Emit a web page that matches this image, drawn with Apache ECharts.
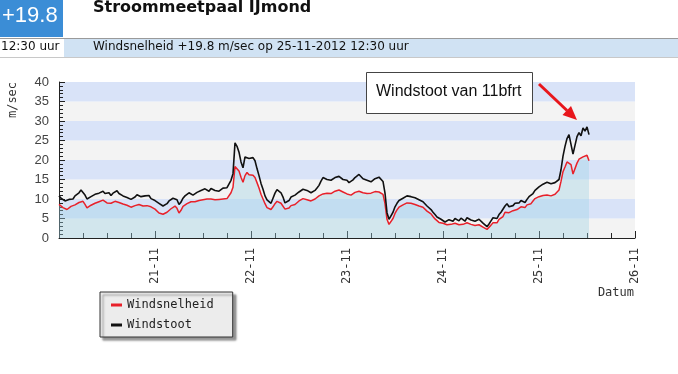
<!DOCTYPE html>
<html>
<head>
<meta charset="utf-8">
<script src="https://cdn.jsdelivr.net/npm/echarts@6/dist/echarts.min.js"></script>
<style>
html,body{margin:0;padding:0;background:#fff;}
#c{width:678px;height:374px;}
</style>
</head>
<body>
<div id="c"></div>
<script>
// half-hourly readings starting 20-11-2012 00:00, last one 25-11-2012 12:30
var startHour = 0;
var stepHours = 0.5;

var windstoot = [
10.8,10.2,9.8,9.5,9.2,9.9,10.3,10.0,10.8,11.3,11.6,12.3,12.0,11.0,10.0,10.4,10.6,10.9,11.2,11.0,11.5,11.9,12.0,11.4,
11.2,11.6,10.9,11.5,11.9,12.1,11.4,11.0,10.8,11.2,10.4,10.0,9.9,10.4,10.5,11.1,10.9,10.6,10.3,10.8,10.5,10.9,10.1,10.3,
9.6,9.2,8.9,8.4,8.2,8.6,8.8,9.5,9.6,10.2,10.6,9.8,8.6,9.2,10.2,10.8,11.0,11.6,11.5,11.0,11.2,11.7,11.8,12.2,
11.9,12.6,12.4,12.0,12.7,13.1,12.2,12.6,12.0,12.5,12.8,12.3,12.9,13.4,14.8,16.5,
24.4,23.5,22.0,19.5,18.0,20.8,21.0,20.4,20.2,20.6,19.8,17.8,16.0,14.0,12.5,10.8,9.8,9.3,8.9,10.2,11.5,12.4,12.2,11.6,
10.5,9.0,8.5,9.6,10.5,10.2,11.0,11.4,11.8,12.1,12.5,12.9,12.2,11.8,11.6,11.9,12.2,12.8,13.5,14.6,15.5,15.9,15.0,14.6,
14.8,15.2,15.5,15.1,15.8,15.4,15.0,15.3,14.8,14.2,14.3,14.9,15.5,15.9,16.3,15.8,15.2,15.5,14.8,14.5,14.4,14.9,15.2,15.0,
15.6,16.0,14.5,11.5,6.5,4.8,5.0,6.6,8.0,8.9,9.6,9.9,10.2,10.6,10.8,10.9,10.6,10.4,10.3,10.1,9.8,9.6,9.3,8.8,
8.2,7.8,7.3,6.6,6.0,5.4,5.0,4.8,4.6,4.1,4.3,4.7,4.9,4.3,5.0,4.7,4.4,5.1,4.8,4.3,5.2,4.9,4.6,5.1,
4.3,4.0,4.8,4.4,3.8,3.4,2.9,3.6,4.4,5.2,5.6,5.0,6.0,6.6,7.0,8.2,8.8,8.0,7.6,8.3,8.9,8.6,9.0,9.6,
9.4,9.1,9.9,10.6,10.3,11.4,12.2,12.7,13.1,13.6,13.8,13.3,14.3,13.8,13.9,13.5,14.2,14.5,15.0,17.5,
21.0,23.5,25.5,26.5,24.0,21.5,22.0,26.0,27.0,26.2,28.2,27.4,28.5,26.5];

var windsnelheid = [
8.6,8.2,7.8,7.5,7.3,7.8,8.1,7.9,8.5,8.8,9.1,9.6,9.4,8.6,7.7,8.1,8.4,8.6,8.9,8.7,9.3,9.5,9.7,9.2,
9.0,9.3,8.9,9.2,9.4,9.6,9.1,8.9,8.7,8.9,8.4,8.1,7.9,8.2,8.3,8.7,8.6,8.4,8.2,8.5,8.3,8.6,8.0,8.1,
7.4,7.0,6.4,6.2,6.1,6.4,6.6,7.1,7.5,7.9,8.2,7.6,6.4,7.1,8.1,8.5,8.8,9.1,9.3,9.0,9.3,9.5,9.6,9.9,
9.8,10.1,10.0,9.8,10.0,10.3,9.8,10.0,9.9,10.2,10.0,9.8,10.1,10.6,11.6,13.0,
18.3,17.8,17.2,15.6,14.3,16.0,16.8,16.2,15.8,16.1,15.5,14.2,12.8,11.2,10.0,8.8,7.8,7.4,7.3,8.0,8.8,9.4,9.3,8.9,
8.4,7.4,7.0,7.7,8.3,8.1,8.6,9.0,9.5,9.7,10.1,10.3,9.8,9.5,9.5,9.7,10.0,10.4,10.8,11.1,11.3,11.6,11.5,11.3,
11.4,11.7,12.0,11.8,12.3,12.0,11.8,11.9,11.3,11.0,11.0,11.4,11.7,12.1,12.0,11.8,11.6,11.8,11.4,11.2,11.5,11.7,11.9,11.7,
11.8,12.0,11.2,8.8,4.8,3.5,3.6,5.0,6.3,7.2,7.9,8.2,8.5,8.8,9.0,9.1,8.9,8.7,8.6,8.4,8.2,8.0,7.9,7.4,
6.9,6.6,6.2,5.5,4.9,4.4,4.0,3.9,3.8,3.3,3.4,3.7,3.5,3.2,3.8,3.6,3.4,3.8,3.5,3.2,3.9,3.6,3.5,3.8,
3.2,3.0,3.4,3.2,2.8,2.5,2.2,2.7,3.3,3.9,4.3,3.9,4.8,5.2,5.5,6.6,7.1,6.5,6.6,7.0,7.5,7.3,7.6,8.0,
8.0,7.8,8.5,8.9,8.8,9.5,10.1,10.4,10.6,10.9,10.9,10.7,11.0,10.8,10.8,10.6,11.2,11.6,12.3,14.5,
17.0,18.2,19.5,20.0,18.8,16.4,16.5,19.2,20.2,19.8,20.8,20.4,21.2,19.8];

var dayLabels = ['20-11','21-11','22-11','23-11','24-11','25-11','26-11'];
var yTicks = [0,5,10,15,20,25,30,35,40];

function pairs(vals){ return vals.map(function(v,i){ return [startHour + i*stepHours, v]; }); }

var chart = echarts.init(document.getElementById('c'), null, {renderer:'canvas'});
var mono = 'DejaVu Sans Mono';
chart.setOption({
  animation:false,
  backgroundColor:'#ffffff',
  grid:{left:59, right:43, top:82, bottom:136, containLabel:false},
  xAxis:{
    type:'value', min:0, max:144, interval:24,
    axisLine:{show:true, lineStyle:{color:'#222', width:1}},
    axisTick:{show:true, inside:true, length:7, lineStyle:{color:'#222'}},
    minorTick:{show:true, splitNumber:4, length:5, lineStyle:{color:'#222'}},
    splitLine:{show:false},
    axisLabel:{
      rotate:90, margin:10, showMinLabel:false, showMaxLabel:true,
      fontFamily:mono, fontSize:12, color:'#333',
      formatter:function(v){ return dayLabels[Math.round(v/24)] || ''; }
    }
  },
  yAxis:{
    type:'value', min:0, max:40, interval:5,
    axisLine:{show:true, lineStyle:{color:'#222', width:1}},
    axisTick:{show:true, inside:true, length:6, lineStyle:{color:'#222'}},
    minorTick:{show:true, splitNumber:5, length:4, lineStyle:{color:'#222'}},
    splitLine:{show:false},
    splitArea:{show:true, areaStyle:{color:['#f3f3f3','#d9e3f8']}},
    axisLabel:{margin:10, fontFamily:'Liberation Sans, Arial', fontSize:13, color:'#444',
      formatter:function(v){ return yTicks.indexOf(v) >= 0 ? String(v) : ''; }}
  },
  legend:{
    left:100, top:292, orient:'vertical',
    backgroundColor:'#ececec', borderColor:'#333', borderWidth:1,
    padding:[7,19,6,11], itemGap:8, itemWidth:11, itemHeight:3, icon:'rect',
    shadowColor:'rgba(80,80,80,0.6)', shadowBlur:2, shadowOffsetX:3, shadowOffsetY:3,
    textStyle:{fontFamily:mono, fontSize:12, color:'#222'},
    data:['Windsnelheid','Windstoot']
  },
  series:[
    {name:'Windsnelheid', type:'line', data:pairs(windsnelheid), showSymbol:false, symbol:'none',
     lineStyle:{color:'#e8212a', width:1.5}, itemStyle:{color:'#e8212a'},
     areaStyle:{color:'rgba(160,210,228,0.55)'}, z:2},
    {name:'Windstoot', type:'line', data:pairs(windstoot), showSymbol:false, symbol:'none',
     lineStyle:{color:'#111111', width:1.6}, itemStyle:{color:'#111111'}, z:3}
  ],
  graphic:[
    {type:'rect', z:100, left:0, top:0, shape:{width:63, height:37}, style:{fill:'#3b8dd6'}},
    {type:'text', z:101, left:2, top:5, style:{text:'+19.8', fill:'#ffffff', font:'22px "Liberation Sans", Arial'}},
    {type:'text', z:101, left:93, top:0, style:{text:'Stroommeetpaal IJmond', fill:'#111', font:'bold 16px "DejaVu Sans", Verdana'}},
    {type:'rect', z:100, left:0, top:38, shape:{width:678, height:19}, style:{fill:'#ffffff'}},
    {type:'rect', z:100, left:64, top:39, shape:{width:614, height:18}, style:{fill:'#d0e2f3'}},
    {type:'line', z:101, shape:{x1:0, y1:38.5, x2:678, y2:38.5}, style:{stroke:'#9a9a9a', lineWidth:1}},
    {type:'line', z:101, shape:{x1:0, y1:57.5, x2:678, y2:57.5}, style:{stroke:'#c8c8c8', lineWidth:1}},
    {type:'text', z:101, left:1, top:41, style:{text:'12:30 uur', fill:'#111', font:'12px "DejaVu Sans", Verdana'}},
    {type:'text', z:101, left:93, top:41, style:{text:'Windsnelheid +19.8 m/sec op 25-11-2012 12:30 uur', fill:'#111', font:'12px "DejaVu Sans", Verdana'}},
    {type:'text', z:101, x:13, y:100, rotation:Math.PI/2, style:{text:'m/sec', fill:'#333', font:'12px "DejaVu Sans Mono"', align:'center', verticalAlign:'middle'}},
    {type:'text', z:101, x:634, y:293, style:{text:'Datum', fill:'#333', font:'12px "DejaVu Sans Mono"', align:'right', verticalAlign:'middle'}},
    {type:'rect', z:100, left:366, top:72, shape:{width:166, height:41}, style:{fill:'#ffffff', stroke:'#444', lineWidth:1}},
    {type:'text', z:101, x:376, y:92, style:{text:'Windstoot van 11bfrt', fill:'#111', font:'16px "Liberation Sans", Arial', verticalAlign:'middle'}},
    {type:'line', z:101, shape:{x1:539, y1:84, x2:567, y2:110.5}, style:{stroke:'#e8161b', lineWidth:3}},
    {type:'polygon', z:101, shape:{points:[[577,120],[562.5,115],[571,106]]}, style:{fill:'#e8161b'}}
  ]
});
</script>
</body>
</html>
